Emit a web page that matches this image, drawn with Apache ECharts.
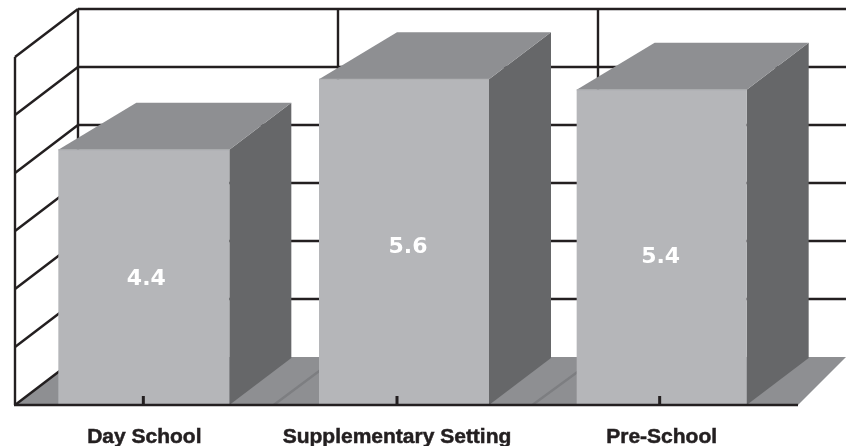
<!DOCTYPE html>
<html><head><meta charset="utf-8">
<style>html,body{margin:0;padding:0;background:#fff}#c{width:846px;height:446px}</style>
<script src="https://cdn.jsdelivr.net/npm/echarts@6/dist/echarts.min.js"></script>
</head><body><div id="c"></div>
<script>
const categories = ['Day School', 'Supplementary Setting', 'Pre-School'];
const values = [4.4, 5.6, 5.4];
const gridValues = [0, 1, 2, 3, 4, 5, 6];
const wallDividers = [0, 1, 2];

const DEPTH_Y = 48, LINE = '#231f20';
const FRONT = '#b5b6b9', TOP = '#8e8f92', SIDE = '#666769', EDGE = '#a9aaad';
const chart = echarts.init(document.getElementById('c'), null, {renderer: 'canvas'});
const line = (x1, y1, x2, y2, stroke, w) => ({type: 'line', shape: {x1, y1, x2, y2}, style: {stroke, lineWidth: w || 2.4}});
const backX = x => 78 + (x - 15) * 260 / 258.67;
// left edge of the category band for index i
const bandLeft = (api, i) => api.coord([i, 0])[0] - api.size([1, 0])[0] / 2;

chart.setOption({
  animation: false,
  backgroundColor: '#fff',
  grid: {left: 15, top: 57, width: 776, height: 348, outerBoundsMode: 'none', containLabel: false},
  xAxis: {
    type: 'category', data: [
      categories[0],
      {value: categories[1], textStyle: {padding: [0, 12, 0, 0]}},
      categories[2]
    ],
    axisLine: {show: false}, axisTick: {show: false}, splitLine: {show: false},
    axisLabel: {margin: 22, color: '#231f20', fontFamily: 'Liberation Sans', fontWeight: 'bold', fontSize: 21, interval: 0,
      textBorderColor: '#231f20', textBorderWidth: 0.5}
  },
  yAxis: {type: 'value', min: 0, max: 6, interval: 1, show: false},
  series: [
    { // floor
      type: 'custom', coordinateSystem: 'cartesian2d', z: 1, clip: false, silent: true,
      data: [0],
      renderItem: (p, api) => {
        const x0 = bandLeft(api, 0), y = api.coord([0, 0])[1];
        const x1 = bandLeft(api, 2) + api.size([1, 0])[0] + 7;
        return {type: 'polygon', shape: {points: [[x0, y], [backX(x0), y - DEPTH_Y], [846, y - DEPTH_Y], [x1, y]]}, style: {fill: TOP}};
      }
    },
    { // back wall and side wall horizontal lines
      type: 'custom', coordinateSystem: 'cartesian2d', z: 2, clip: false, silent: true,
      data: gridValues,
      renderItem: (p, api) => {
        const x0 = bandLeft(api, 0), y = api.coord([0, api.value(0)])[1];
        const bx = backX(x0), by = y - DEPTH_Y;
        const kids = [line(x0, y, bx, by, LINE)];
        if (api.value(0) !== 0) kids.push(line(bx, by, 846, by, LINE));
        return {type: 'group', children: kids};
      }
    },
    { // vertical wall dividers
      type: 'custom', coordinateSystem: 'cartesian2d', z: 2, clip: false, silent: true,
      data: wallDividers,
      renderItem: (p, api) => {
        const i = api.value(0);
        const x = bandLeft(api, i), yLo = api.coord([0, 0])[1], yHi = api.coord([0, 6])[1];
        const bx = backX(x);
        const kids = [line(bx, yHi - DEPTH_Y, bx, yLo - DEPTH_Y, LINE)];
        if (i === 0) kids.push(line(x, yHi, x, yLo, LINE));
        else kids.push(line(x, yLo, bx, yLo - DEPTH_Y, '#7d7e81'));
        return {type: 'group', children: kids};
      }
    },
    { // 3D bars
      type: 'custom', coordinateSystem: 'cartesian2d', z: 3, clip: false, silent: true,
      encode: {x: 0, y: 1},
      data: values.map((v, i) => [i, v]),
      renderItem: (p, api) => {
        const i = api.value(0), v = api.value(1);
        const t = api.coord([i, v]), o = api.coord([i, 0]);
        const xl = t[0] + [-86, -84, -85][i], xr = xl + 171 - (i ? 1 : 0), yb = o[1];
        const yt = t[1] + [0, -1, -2][i];
        const labelX = t[0] + [2, 5, -1][i];
        const labelY = [279, 247, 257][i];
        return {type: 'group', children: [
          {type: 'polygon', shape: {points: [[xr, yb], [xr + 62, yb - 47], [xr + 62, yt - 47], [xr, yt]]}, style: {fill: SIDE}},
          {type: 'polygon', shape: {points: [[xl, yt], [xl + 78, yt - 47], [xr + 62, yt - 47], [xr, yt]]}, style: {fill: TOP}},
          {type: 'rect', shape: {x: xl, y: yt, width: xr - xl, height: yb - yt}, style: {fill: FRONT}},
          line(xl, yt, xr, yt, EDGE, 1),
          {type: 'text', x: labelX, y: labelY, style: {text: v.toFixed(1), fill: '#fff', font: 'bold 22px "DejaVu Sans"', textAlign: 'center', textVerticalAlign: 'middle'}}
        ]};
      }
    },
    { // baseline and tick marks on top of bars
      type: 'custom', coordinateSystem: 'cartesian2d', z: 4, clip: false, silent: true,
      data: categories.map((c, i) => i),
      renderItem: (p, api) => {
        const i = api.value(0);
        const c = api.coord([i, 0]);
        const x = c[0] + [-1, -6, -2][i];
        const kids = [line(x, c[1] - 9, x, c[1], LINE, 3)];
        if (i === 0) {
          const x1 = bandLeft(api, 2) + api.size([1, 0])[0] + 7;
          kids.push(line(bandLeft(api, 0) - 1, c[1], x1, c[1], LINE, 2.5));
        }
        return {type: 'group', children: kids};
      }
    }
  ]
});
</script></body></html>
